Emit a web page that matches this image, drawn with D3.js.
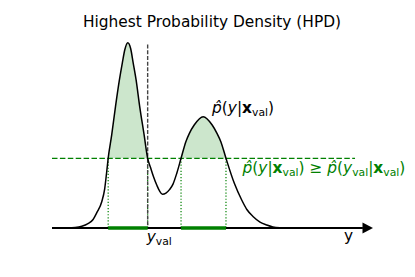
<!DOCTYPE html>
<html>
<head>
<meta charset="utf-8">
<script src="https://cdn.jsdelivr.net/npm/d3@7"></script>
<style>
  body { margin: 0; background: #fff; }
  text { font-family: "DejaVu Sans", sans-serif; }
</style>
</head>
<body>
<div id="chart"></div>
<script>
//Density curve (y on the axis, density value)
var curveX = [0, 0.40, 0.72, 0.93, 1.12, 1.28, 1.40, 1.55, 1.64, 1.70, 1.75, 1.86, 1.98, 2.10, 2.19, 2.27,
  2.36, 2.45, 2.53, 2.62, 2.73, 2.87, 2.98, 3.07, 3.16, 3.27, 3.35, 3.44, 3.55, 3.66, 3.77, 3.89, 4.02,
  4.17, 4.28, 4.43, 4.71, 4.99, 5.14, 5.26, 5.42, 5.68, 5.91, 6.07, 6.27, 6.48, 6.69, 6.88, 7.10, 7.57, 8.5, 9.69];
var curveY = [0, 0.001, 0.003, 0.009, 0.023, 0.046, 0.084, 0.142, 0.210, 0.297, 0.376, 0.502, 0.658, 0.799, 0.890, 0.963,
  1.000, 0.969, 0.890, 0.799, 0.658, 0.502, 0.376, 0.326, 0.278, 0.229, 0.200, 0.182, 0.188, 0.207, 0.237, 0.297, 0.376,
  0.466, 0.511, 0.556, 0.601, 0.556, 0.511, 0.466, 0.376, 0.241, 0.151, 0.100, 0.061, 0.032, 0.016, 0.006, 0.002, 0, 0, 0];

//HPD region: threshold density and the intervals where the curve is above it
var threshold = 0.376;
var intervalStart = [1.75, 4.02];
var intervalEnd = [2.98, 5.42];
var yVal = 2.98;

//Extents of the axis, threshold line and marker line
var axisDomain = [0, 10];
var thresholdEnd = 9.44;
var yValTop = 0.99;

var titleText = "Highest Probability Density (HPD)";

var points = curveX.map(function(x, i) { return { x: x, y: curveY[i] }; });

//SVG area
var svgWidth = 415;
var svgHeight = 277;

var svg = d3.select("#chart").append("svg")
  .attr("width", svgWidth)
  .attr("height", svgHeight);

//Scales
var xScale = d3.scaleLinear()
  .domain(axisDomain)
  .range([52, 373]);

var yScale = d3.scaleLinear()
  .domain([0, 1])
  .range([228, 42.7]);

var green = "#008000";
var smooth = d3.curveMonotoneX;

//Clip so the fill only shows above the threshold
svg.append("clipPath")
  .attr("id", "above")
  .append("rect")
  .attr("x", 0)
  .attr("y", 0)
  .attr("width", svgWidth)
  .attr("height", yScale(threshold));

var area = d3.area()
  .x(d => xScale(d.x))
  .y0(yScale(0))
  .y1(d => yScale(d.y))
  .curve(smooth);

svg.append("path")
  .datum(points)
  .attr("d", area)
  .attr("clip-path", "url(#above)")
  .attr("fill", green)
  .attr("fill-opacity", 0.2);

//Threshold line
svg.append("line")
  .attr("x1", xScale(axisDomain[0]))
  .attr("x2", xScale(thresholdEnd))
  .attr("y1", yScale(threshold))
  .attr("y2", yScale(threshold))
  .attr("stroke", green)
  .attr("stroke-width", 1.3)
  .attr("stroke-dasharray", "5.5,2.4");

//Dotted verticals at interval edges
var edges = intervalStart.concat(intervalEnd);
svg.selectAll(".edge")
  .data(edges)
  .enter()
  .append("line")
  .attr("class", "edge")
  .attr("x1", d => xScale(d))
  .attr("x2", d => xScale(d))
  .attr("y1", yScale(threshold))
  .attr("y2", yScale(0))
  .attr("stroke", green)
  .attr("stroke-width", 1.2)
  .attr("stroke-dasharray", "1.2,1.9");

//y_val marker
svg.append("line")
  .attr("x1", xScale(yVal))
  .attr("x2", xScale(yVal))
  .attr("y1", yScale(yValTop))
  .attr("y2", yScale(0))
  .attr("stroke", "#444")
  .attr("stroke-width", 1.4)
  .attr("stroke-dasharray", "4,1.7");

//Density curve
var line = d3.line()
  .x(d => xScale(d.x))
  .y(d => yScale(d.y))
  .curve(smooth);

svg.append("path")
  .datum(points)
  .attr("d", line)
  .attr("fill", "none")
  .attr("stroke", "black")
  .attr("stroke-width", 1.5);

//Axis with arrow
var arrowLen = 10.5;
svg.append("line")
  .attr("x1", xScale(axisDomain[0]))
  .attr("x2", xScale(axisDomain[1]) - arrowLen)
  .attr("y1", yScale(0))
  .attr("y2", yScale(0))
  .attr("stroke", "black")
  .attr("stroke-width", 2);

var tipX = xScale(axisDomain[1]);
var baseY = yScale(0);
svg.append("path")
  .attr("d", `M${tipX},${baseY} L${tipX - arrowLen},${baseY - 5.5} L${tipX - arrowLen},${baseY + 5.5} Z`)
  .attr("fill", "black");

//HPD intervals on the axis
svg.selectAll(".hpd")
  .data(intervalStart)
  .enter()
  .append("line")
  .attr("class", "hpd")
  .attr("x1", d => xScale(d))
  .attr("x2", (d, i) => xScale(intervalEnd[i]))
  .attr("y1", yScale(0))
  .attr("y2", yScale(0))
  .attr("stroke", green)
  .attr("stroke-width", 3.4);

//Title
svg.append("text")
  .attr("x", 212)
  .attr("y", 27.3)
  .attr("text-anchor", "middle")
  .attr("font-size", 15.4)
  .text(titleText);

//Helper for math-like labels: parts are [text, style]
function mathLabel(x, y, color, parts) {
  var t = svg.append("text")
    .attr("x", x)
    .attr("y", y)
    .attr("font-size", 15.4)
    .attr("fill", color);
  var lowered = false;
  parts.forEach(function(p) {
    var s = t.append("tspan").text(p[0]);
    if (p[1] == "i") s.attr("font-style", "italic");
    if (p[1] == "b") s.attr("font-weight", "bold");
    if (p[1] == "sub") {
      s.attr("font-size", 10.8);
      if (!lowered) { s.attr("dy", 3.2); lowered = true; }
    } else if (lowered) {
      s.attr("dy", -3.2);
      lowered = false;
    }
  });
  return t;
}

mathLabel(212, 112.5, "black", [["p\u0302", "i"], ["(", ""], ["y", "i"], ["|", ""], ["x", "b"], ["val", "sub"], [")", ""]]);

mathLabel(242.5, 173, green, [["p\u0302", "i"], ["(", ""], ["y", "i"], ["|", ""], ["x", "b"], ["val", "sub"], [")", ""],
  [" \u2265 ", ""], ["p\u0302", "i"], ["(", ""], ["y", "i"], ["val", "sub"], ["|", ""], ["x", "b"], ["val", "sub"], [")", ""]]);

mathLabel(xScale(yVal) - 1, 241.5, "black", [["y", "i"], ["val", "sub"]]);

//Axis label
svg.append("text")
  .attr("x", 344)
  .attr("y", 241.3)
  .attr("font-size", 15.4)
  .text("y");
</script>
</body>
</html>
